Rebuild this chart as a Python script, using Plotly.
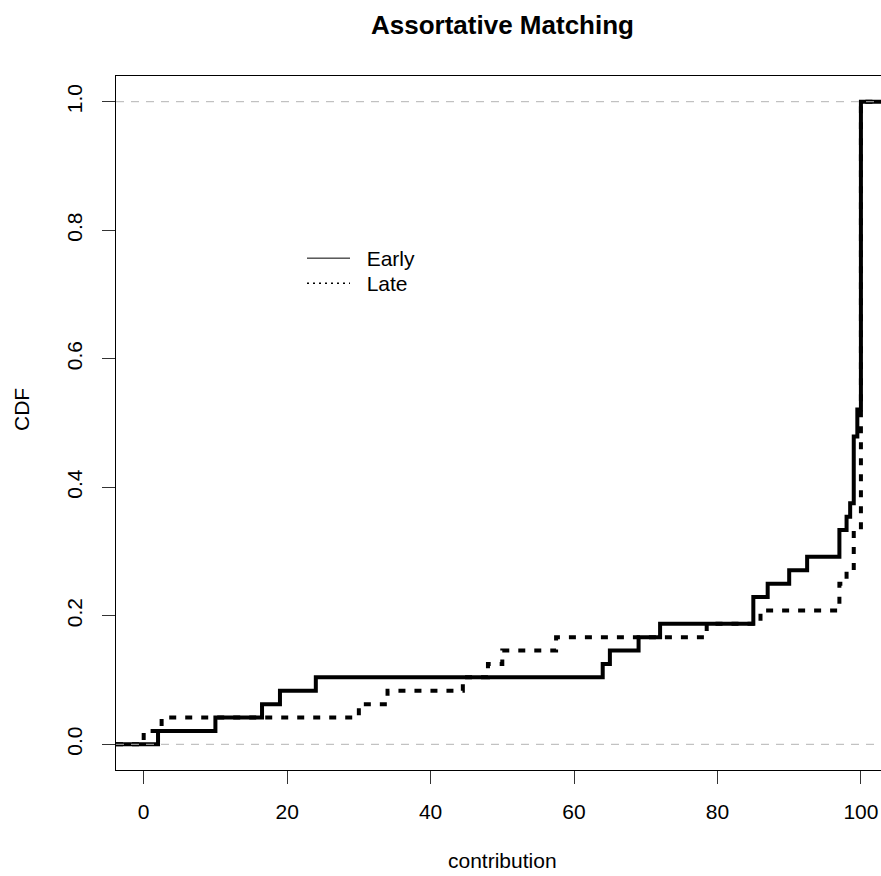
import numpy as np
import plotly.graph_objects as go

# Contribution values (distinct) and how many observations sit at each value
early_values = [2, 10, 16.5, 19, 24, 64, 65, 69, 72, 85, 87, 90, 92.5, 97, 98, 98.5, 99, 99.5, 100]
early_counts = [1, 1, 1, 1, 1, 1, 1, 1, 1, 2, 1, 1, 1, 2, 1, 1, 5, 2, 23]

late_values = [0, 2.5, 30, 34, 44.5, 48, 50, 57.5, 78.5, 86, 97, 98, 99, 100]
late_counts = [1, 1, 1, 1, 1, 1, 1, 1, 1, 1, 2, 1, 3, 32]

x_ticks = [0, 20, 40, 60, 80, 100]
y_ticks = [0.0, 0.2, 0.4, 0.6, 0.8, 1.0]

X_RANGE = [-3.86, 102.8]
Y_RANGE = [-0.04, 1.04]

FONT = "Liberation Sans, Arial, Helvetica, sans-serif"
W, H = 881, 876
ML, MR, MT, MB = 116, 0, 76, 106
PW, PH = W - ML - MR, H - MT - MB


def px_x(px):
    return (px - ML) / PW


def px_y(py):
    return (H - MB - py) / PH


def ecdf_steps(values, counts):
    cdf = np.cumsum(counts) / np.sum(counts)
    xs = [X_RANGE[0]] + list(values) + [X_RANGE[1]]
    ys = [0.0] + list(cdf) + [1.0]
    return xs, ys


fig = go.Figure()

ex, ey = ecdf_steps(early_values, early_counts)
lx, ly = ecdf_steps(late_values, late_counts)

fig.add_trace(go.Scatter(x=ex, y=ey, mode="lines", line_shape="hv",
                         line=dict(color="black", width=4), showlegend=False,
                         name="Early"))
fig.add_trace(go.Scatter(x=lx, y=ly, mode="lines", line_shape="hv",
                         line=dict(color="black", width=4, dash="7px,9px"),
                         showlegend=False, name="Late"))

NB = "\u00a0"
# legend entries (thin lines, as in the original key)
fig.add_trace(go.Scatter(x=[None], y=[None], mode="lines", name=NB * 2 + "Early",
                         line=dict(color="black", width=1), legend="legend"))
fig.add_trace(go.Scatter(x=[None], y=[None], mode="lines", name=NB * 2 + "Late",
                         line=dict(color="black", width=1.5, dash="2px,4px"),
                         legend="legend2"))

# reference lines at 0 and 1
for h in (0, 1):
    fig.add_hline(y=h, line=dict(color="#b3b3b3", width=1, dash="8px,7px"))

legend_common = dict(xanchor="left", yanchor="top", bgcolor="rgba(0,0,0,0)",
                     font=dict(size=21, family=FONT), itemwidth=43)

fig.update_layout(
    width=W, height=H,
    margin=dict(l=ML, r=MR, t=MT, b=MB),
    paper_bgcolor="white", plot_bgcolor="white",
    font=dict(family=FONT, color="black", size=21),
    title=dict(text="<b>Assortative Matching</b>", xref="paper", x=px_x(502.5),
               xanchor="center", yref="container", y=1 - 24.5 / H,
               yanchor="middle", font=dict(size=26, family=FONT, color="black")),
    showlegend=True,
    legend=dict(x=px_x(302), y=px_y(238), **legend_common),
    legend2=dict(x=px_x(302), y=px_y(263), **legend_common),
    xaxis=dict(range=X_RANGE, tickvals=x_ticks, ticks="outside", ticklen=13,
               tickcolor="#333", showline=True, linecolor="black", linewidth=1,
               mirror=True, showgrid=False, zeroline=False, automargin=False,
               tickfont=dict(size=21), ticklabelstandoff=10),
    yaxis=dict(range=Y_RANGE, tickvals=y_ticks, tickformat=".1f", ticks="outside",
               ticklen=13, tickcolor="#333", showline=True, linecolor="black",
               linewidth=1, showgrid=False, zeroline=False, tickangle=-90,
               automargin=False, tickfont=dict(size=21), ticklabelstandoff=12),
    annotations=[
        dict(text="contribution", xref="paper", yref="paper",
             x=px_x(502.5), y=px_y(860),
             xanchor="center", yanchor="middle", showarrow=False,
             font=dict(size=21)),
        dict(text="CDF", xref="paper", yref="paper",
             x=px_x(21), y=px_y(410), textangle=-90,
             xanchor="center", yanchor="middle", showarrow=False,
             font=dict(size=21)),
    ],
)

fig.write_html("out.html", config={"displayModeBar": False},
               post_script="document.body.style.margin='0px';")
